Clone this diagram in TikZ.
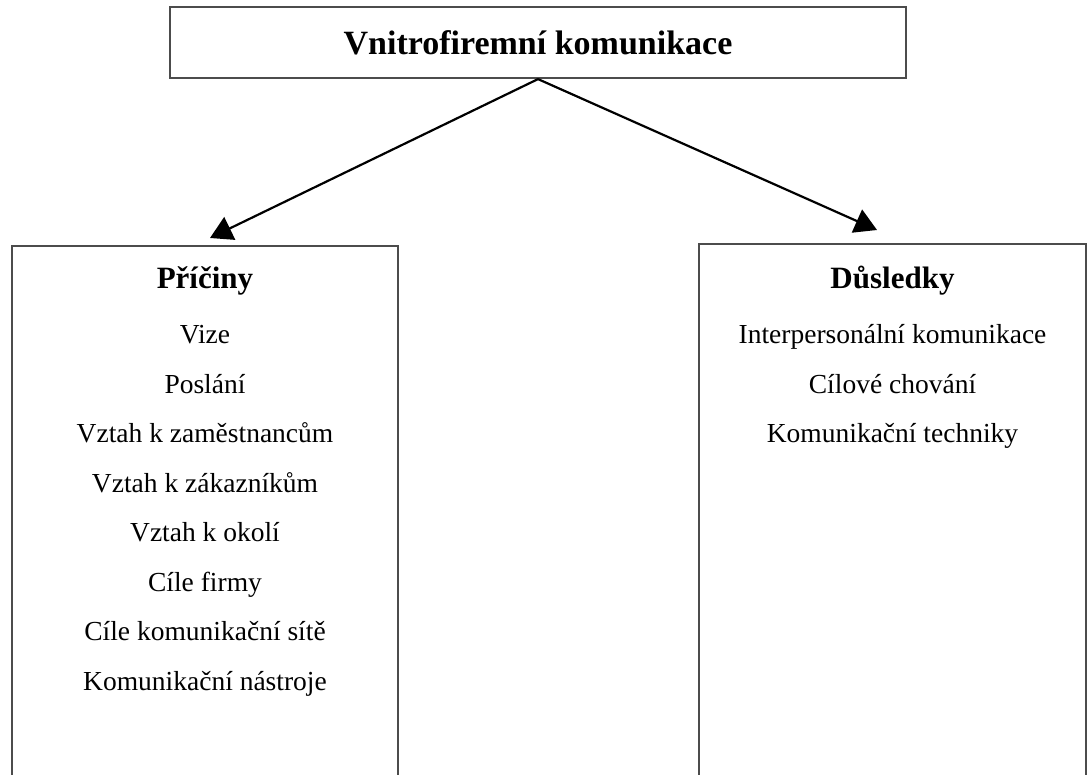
\documentclass[tikz,border=0pt]{standalone}
\usepackage{fontspec}
\setmainfont{Liberation Serif}
\usetikzlibrary{positioning, arrows.meta}
\newcommand{\boxtitlefont}{\fontsize{34}{40}\selectfont\bfseries}
\newcommand{\boxheadfont}{\fontsize{31}{37}\selectfont\bfseries}
\newcommand{\boxitemfont}{\fontsize{27.5}{33}\selectfont}
\tikzset{
	box/.style={draw=black!70, line width=2.2pt, inner sep=0pt},
	head/.style={font=\boxheadfont, inner sep=0pt},
	item/.style={font=\boxitemfont, inner sep=0pt},
	arrow/.style={line width=2.2pt, -{Triangle[length=22pt, width=25pt]}},
}
\begin{document}
\begin{tikzpicture}[x=1pt, y=-1pt]
	\useasboundingbox (0,0) rectangle (1091,775);
	\clip (0,0) rectangle (1091,775);
	% top box
	\node (firma) [box, minimum width=736pt, minimum height=71pt, font=\boxtitlefont] at (538,42.5) {Vnitrofiremní komunikace};
	% the two open boxes
	\node (pricinyBox) [box, minimum width=386pt, minimum height=600pt, anchor=north] at (205,245) {};
	\node (dusledkyBox) [box, minimum width=387pt, minimum height=600pt, anchor=north] at (892.5,243) {};
	% left column
	\node (pricinyHead) [head, anchor=base] at (205,288) {Příčiny};
	\node (vize) [item, below=55.5pt of pricinyHead.base, anchor=base] {Vize};
	\node (poslani) [item, below=49.5pt of vize.base, anchor=base] {Poslání};
	\node (zamestnanci) [item, below=49.5pt of poslani.base, anchor=base] {Vztah k zaměstnancům};
	\node (zakaznici) [item, below=49.5pt of zamestnanci.base, anchor=base] {Vztah k zákazníkům};
	\node (okoli) [item, below=49.5pt of zakaznici.base, anchor=base] {Vztah k okolí};
	\node (cileFirmy) [item, below=49.5pt of okoli.base, anchor=base] {Cíle firmy};
	\node (cileSite) [item, below=49.5pt of cileFirmy.base, anchor=base] {Cíle komunikační sítě};
	\node (nastroje) [item, below=49.5pt of cileSite.base, anchor=base] {Komunikační nástroje};
	% right column
	\node (dusledkyHead) [head, anchor=base] at (892.5,288) {Důsledky};
	\node (interpers) [item, below=55.5pt of dusledkyHead.base, anchor=base] {Interpersonální komunikace};
	\node (chovani) [item, below=49.5pt of interpers.base, anchor=base] {Cílové chování};
	\node (techniky) [item, below=49.5pt of chovani.base, anchor=base] {Komunikační techniky};
	% arrows
	\draw [arrow] (firma.south) -- ([xshift=5pt, yshift=7pt]pricinyBox.north);
	\draw [arrow] (firma.south) -- ([xshift=-15.5pt, yshift=13pt]dusledkyBox.north);
\end{tikzpicture}
\end{document}
